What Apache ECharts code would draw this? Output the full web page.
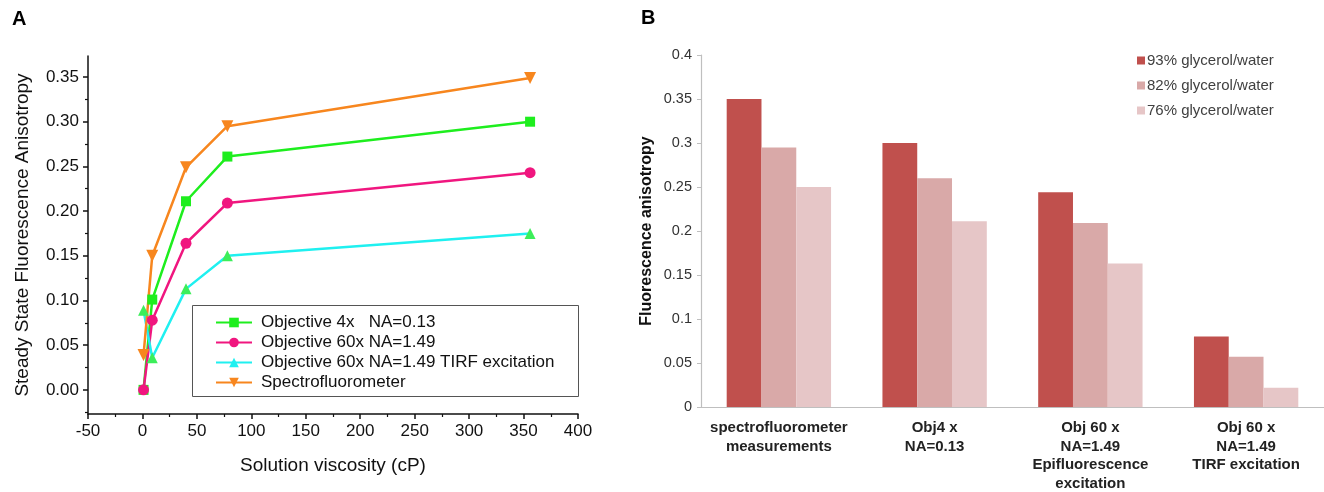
<!DOCTYPE html>
<html>
<head>
<meta charset="utf-8" />
<title>Anisotropy</title>
<script src="https://cdn.jsdelivr.net/npm/echarts@6/dist/echarts.min.js"></script>
<style>
  html, body { margin: 0; padding: 0; background: #fff; }
  #main { width: 1324px; height: 492px; }
</style>
</head>
<body>
<div id="main"></div>
<script>
// panel A: anisotropy vs viscosity
var viscosity = [1, 9, 40, 78, 356];
var obj4x = [0, 0.101, 0.211, 0.261, 0.300];
var obj60x = [0, 0.078, 0.164, 0.209, 0.243];
var obj60xTirf = [0.089, 0.036, 0.113, 0.150, 0.175];
var spectro = [0.039, 0.150, 0.249, 0.295, 0.349];
var yTicksA = [0, 0.05, 0.10, 0.15, 0.20, 0.25, 0.30, 0.35];
var yMinorA = [-0.025, 0.025, 0.075, 0.125, 0.175, 0.225, 0.275, 0.325];

// panel B: grouped bars
var categoriesB = [
  'spectrofluorometer\nmeasurements',
  'Obj4 x\nNA=0.13',
  'Obj 60 x\nNA=1.49\nEpifluorescence\nexcitation',
  'Obj 60 x\nNA=1.49\nTIRF excitation'
];
var glycerol93 = [0.350, 0.300, 0.244, 0.080];
var glycerol82 = [0.295, 0.260, 0.209, 0.057];
var glycerol76 = [0.250, 0.211, 0.163, 0.022];

var fontA = 'Liberation Sans, Arial, sans-serif';
var fontB = 'Liberation Sans, Arial, sans-serif';

function pts(ys) {
  return ys.map(function (y, i) { return [viscosity[i], y]; });
}

var chart = echarts.init(document.getElementById('main'));

var option = {
  animation: false,
  backgroundColor: '#fff',
  graphic: [
    { type: 'text', left: 12, top: 9, style: { text: 'A', font: 'bold 20px Liberation Sans, Arial', fill: '#000' } },
    { type: 'text', left: 641, top: 8, style: { text: 'B', font: 'bold 20px Liberation Sans, Arial', fill: '#000' } },
    { type: 'rect', shape: { x: 192.5, y: 305.5, width: 386, height: 91 }, style: { fill: '#fff', stroke: '#555', lineWidth: 1 }, z: 5 }
  ],
  grid: [
    { left: 88, top: 56, width: 490, height: 358, outerBoundsMode: 'none' },
    { left: 701, top: 55, right: 0, height: 352, outerBoundsMode: 'none' }
  ],
  legend: [
    {
      left: 210, top: 309, orient: 'vertical', itemGap: 3, itemWidth: 36, itemHeight: 12,
      z: 10,
      textStyle: { fontFamily: fontA, fontSize: 17, color: '#111', padding: [0, 0, 0, 4] },
      data: [
        { name: 'Objective 4x   NA=0.13' },
        { name: 'Objective 60x NA=1.49' },
        { name: 'Objective 60x NA=1.49 TIRF excitation', itemStyle: { color: '#1FF0F0' } },
        { name: 'Spectrofluorometer' }
      ]
    },
    {
      left: 1132, top: 48, orient: 'vertical', itemGap: 10, itemWidth: 8, itemHeight: 8,
      icon: 'rect',
      textStyle: { fontFamily: fontB, fontSize: 15, color: '#404040', padding: [0, 0, 0, -3] },
      data: ['93% glycerol/water', '82% glycerol/water', '76% glycerol/water']
    }
  ],
  xAxis: [
    {
      gridIndex: 0, type: 'value', min: -50, max: 400, interval: 50,
      name: 'Solution viscosity (cP)', nameLocation: 'middle', nameGap: 42,
      nameTextStyle: { fontFamily: fontA, fontSize: 19, color: '#111' },
      axisLine: { onZero: false, lineStyle: { color: '#111', width: 1.5 } },
      axisTick: { length: 5, lineStyle: { color: '#111', width: 1.5 } },
      minorTick: { show: true, splitNumber: 2, length: 3, lineStyle: { color: '#111', width: 1.2 } },
      axisLabel: { fontFamily: fontA, fontSize: 17, color: '#111', margin: 9 },
      splitLine: { show: false }
    },
    {
      gridIndex: 1, type: 'category', data: categoriesB,
      axisLine: { lineStyle: { color: '#bfbfbf', width: 1.2 } },
      axisTick: { show: false },
      axisLabel: { interval: 0, fontFamily: fontB, fontWeight: 'bold', fontSize: 15, lineHeight: 18.5, color: '#222', margin: 12 },
      splitLine: { show: false }
    }
  ],
  yAxis: [
    {
      gridIndex: 0, type: 'value', min: -0.027, max: 0.3735,
      name: 'Steady State Fluorescence Anisotropy', nameLocation: 'middle', nameGap: 56,
      nameTextStyle: { fontFamily: fontA, fontSize: 19, color: '#111' },
      axisLine: { show: true, onZero: false, lineStyle: { color: '#111', width: 1.5 } },
      axisTick: { show: true, length: 5, customValues: yTicksA, lineStyle: { color: '#111', width: 1.5 } },
      axisLabel: {
        fontFamily: fontA, fontSize: 17, color: '#111', margin: 9, customValues: yTicksA,
        formatter: function (v) { return v.toFixed(2); }
      },
      splitLine: { show: false }
    },
    {
      gridIndex: 0, type: 'value', min: -0.027, max: 0.3735,
      axisLine: { show: false, onZero: false },
      axisTick: { show: true, length: 3, customValues: yMinorA, lineStyle: { color: '#111', width: 1.2 } },
      axisLabel: { show: false },
      position: 'left',
      splitLine: { show: false }
    },
    {
      gridIndex: 1, type: 'value', min: 0, max: 0.4, interval: 0.05,
      name: 'Fluorescence anisotropy', nameLocation: 'middle', nameGap: 46,
      nameTextStyle: { fontFamily: fontA, fontWeight: 'bold', fontSize: 16, color: '#111' },
      axisLine: { show: true, lineStyle: { color: '#bfbfbf', width: 1.2 } },
      axisTick: { show: true, length: 4, lineStyle: { color: '#bfbfbf' } },
      axisLabel: { fontFamily: fontB, fontSize: 14.5, color: '#333', margin: 9 },
      splitLine: { show: false }
    }
  ],
  series: [
    {
      name: 'Objective 4x   NA=0.13', type: 'line', xAxisIndex: 0, yAxisIndex: 0,
      data: pts(obj4x), symbol: 'rect', symbolSize: 10,
      lineStyle: { color: '#1EEE1E', width: 2.5 }, itemStyle: { color: '#1EEE1E' }
    },
    {
      name: 'Objective 60x NA=1.49', type: 'line', xAxisIndex: 0, yAxisIndex: 0,
      data: pts(obj60x), symbol: 'circle', symbolSize: 11,
      lineStyle: { color: '#F0167F', width: 2.5 }, itemStyle: { color: '#F0167F' }
    },
    {
      name: 'Objective 60x NA=1.49 TIRF excitation', type: 'line', xAxisIndex: 0, yAxisIndex: 0,
      data: pts(obj60xTirf), symbol: 'triangle', symbolSize: 11,
      lineStyle: { color: '#1FF0F0', width: 2.5 }, itemStyle: { color: '#3CEE5A' }
    },
    {
      name: 'Spectrofluorometer', type: 'line', xAxisIndex: 0, yAxisIndex: 0,
      data: pts(spectro), symbol: 'triangle', symbolRotate: 180, symbolSize: 12,
      lineStyle: { color: '#F7861E', width: 2.5 }, itemStyle: { color: '#F7861E' }
    },
    {
      name: '93% glycerol/water', type: 'bar', xAxisIndex: 1, yAxisIndex: 2,
      data: glycerol93, barGap: '0%', barCategoryGap: '33%', itemStyle: { color: '#C0504D' }
    },
    {
      name: '82% glycerol/water', type: 'bar', xAxisIndex: 1, yAxisIndex: 2,
      data: glycerol82, barGap: '0%', barCategoryGap: '33%', itemStyle: { color: '#D9A9A8' }
    },
    {
      name: '76% glycerol/water', type: 'bar', xAxisIndex: 1, yAxisIndex: 2,
      data: glycerol76, barGap: '0%', barCategoryGap: '33%', itemStyle: { color: '#E6C6C7' }
    }
  ]
};

chart.setOption(option);
</script>
</body>
</html>
